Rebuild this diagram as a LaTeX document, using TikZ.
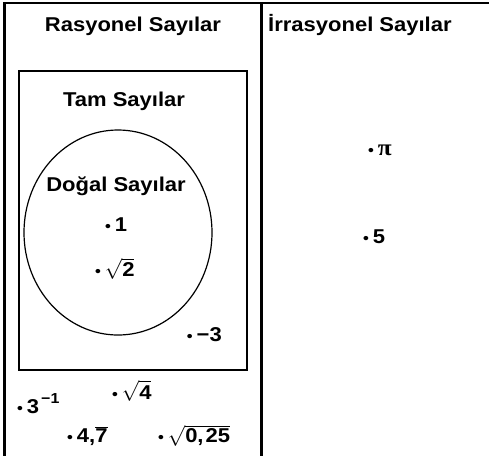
\documentclass[tikz,border=0pt]{standalone}
\usepackage{fontspec}
\setmainfont{Liberation Sans}[FakeStretch=1.1]
\newfontfamily\pifont{Liberation Serif}[FakeStretch=1.1]
\usetikzlibrary{positioning,shapes.geometric}
\newcommand{\nd}{{\fontsize{15}{15}\selectfont\textbullet}\hspace{4pt}}

\begin{document}
\begin{tikzpicture}[x=1pt,y=-1pt,
  lbl/.style={font=\fontsize{20}{22}\selectfont\bfseries,inner sep=0pt},
  num/.style={lbl,anchor=base west},
  edge/.style={line width=3pt},
  sets/.style={draw,line width=1.5pt}]
\useasboundingbox (0,0) rectangle (489,456);
% table frame
\draw[line width=2pt] (3,3)--(489,3);
\draw[edge] (4.5,2)--(4.5,456);
\draw[edge] (261.5,2)--(261.5,456);
% headers
\node[lbl,anchor=base] (rq) at (133,31.5) {Rasyonel Sayılar};
\node[lbl,anchor=base west] (iq) at (268,31.5) {İrrasyonel Sayılar};
% integers and naturals
\node[sets,rectangle,minimum width=228pt,minimum height=299pt,anchor=north west] (zz) at (18,70) {};
\node[lbl,anchor=base] (zt) at (124,106.7) {Tam Sayılar};
\node[draw,line width=1.2pt,ellipse,minimum width=188pt,minimum height=205pt,inner sep=0pt] (nn) at (118,232.5) {};
\node[lbl,anchor=base] (nt) at (116,191.7) {Doğal Sayılar};
% numbers
\node[num] (n1) at (105,231.7) {\nd 1};
\node[num] (n2) at (95,276.7) {\nd$\sqrt{\hbox{\bfseries 2}}$};
\node[num] (n3) at (186.7,341) {\nd −3};
\node[num] (n4) at (17,413) {\nd 3\hspace{2pt}\raisebox{9.5pt}{\fontsize{14.5}{15}\selectfont\bfseries −1}};
\node[num] (n5) at (112,399) {\nd$\sqrt{\hbox{\bfseries 4}}$};
\node[num] (n6) at (67,442) {\nd 4,$\overline{\hbox{\bfseries 7}}$};
\node[num] (n7) at (158,442) {\nd$\sqrt{\hbox{\bfseries 0,\hspace{2pt}25}}$};
\node[num] (n8) at (368,155) {\nd{\pifont\bfseries\fontsize{23}{23}\selectfont π}};
\node[num] (n9) at (363,243) {\nd 5};
\end{tikzpicture}
\end{document}
